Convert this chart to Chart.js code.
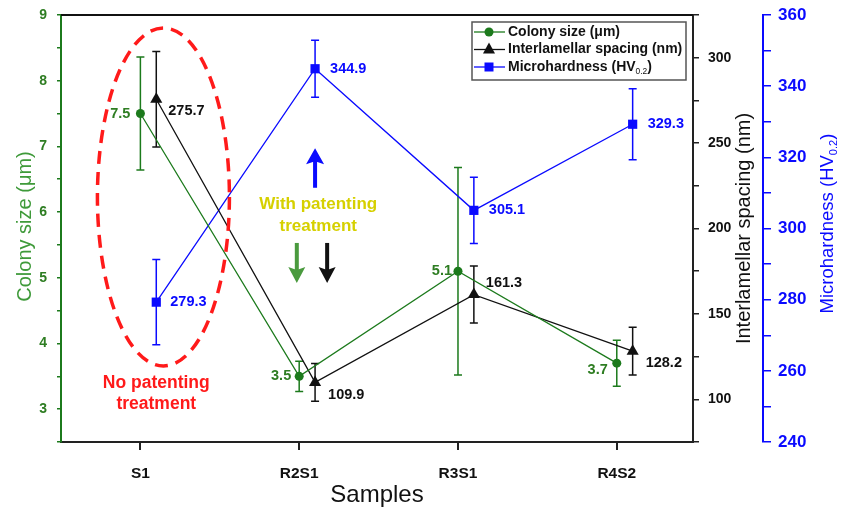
<!DOCTYPE html>
<html>
<head>
<meta charset="utf-8">
<script src="https://cdn.jsdelivr.net/npm/chart.js@4.4.0/dist/chart.umd.min.js"></script>
<style>
  html, body { margin: 0; background: #fff; }
  #wrap { width: 842px; height: 512px; }
</style>
</head>
<body>
<div id="wrap"><canvas id="c"></canvas></div>
<script>
"use strict";

const FONT = "'Liberation Sans', Arial, sans-serif";
const GREEN = "#1c7a1c";
const GREEN_TXT = "#2e7d22";
const GREEN_TITLE = "#3f9a3a";
const BLACK = "#111111";
const BLUE = "#0a0aff";
const RED = "#ff1a1a";
const YELLOW = "#d6d000";

// ---- data ----
const samples = ["S1", "R2S1", "R3S1", "R4S2"];
const colonySize = [7.5, 3.5, 5.1, 3.7];
const colonyErr = [0.86, 0.23, 1.58, 0.35];
const spacing = [275.7, 109.9, 161.3, 128.2];
const spacingErr = [28, 11, 16.7, 14];
const hardness = [279.3, 344.9, 305.1, 329.3];
const hardnessErr = [12, 8, 9.3, 10];

const colonyTickLabels = [3, 4, 5, 6, 7, 8, 9];
const spacingTickLabels = [100, 150, 200, 250, 300];
const hardnessTickLabels = [240, 260, 280, 300, 320, 340, 360];

// value label placement next to each marker: [dx, dy, align]
const colonyLabelPos = [[-10, 0, "right"], [-8, 0, "right"], [-6, 0, "right"], [-9, 7, "right"]];
const spacingLabelPos = [[12, 12, "left"], [13, 13, "left"], [12, -12, "left"], [13, 12, "left"]];
const hardnessLabelPos = [[14, 0, "left"], [15, 0, "left"], [15, 0, "left"], [15, 0, "left"]];

const SHIFT = 0.1; // spacing and hardness markers sit a little right of the category

function pts(vals, shift) {
  return vals.map((v, i) => ({ x: i + shift, y: v }));
}

// fixed axis sizes, no extra room for half-labels at the ends
const fixWidth = (w) => (s) => { s.width = w; s.paddingTop = 0; s.paddingBottom = 0; };

// ---- drawing helpers ----
function arrow(c, x, yTail, yTip, color, shaftW, headW, headH) {
  const dir = yTip > yTail ? 1 : -1;
  const yBase = yTip - dir * headH;
  c.save();
  c.strokeStyle = color; c.fillStyle = color; c.lineWidth = shaftW;
  c.beginPath(); c.moveTo(x, yTail); c.lineTo(x, yBase + dir * 2); c.stroke();
  c.beginPath();
  c.moveTo(x, yTip);
  c.lineTo(x - headW / 2, yBase - dir * 3);
  c.lineTo(x, yBase);
  c.lineTo(x + headW / 2, yBase - dir * 3);
  c.closePath(); c.fill();
  c.restore();
}

// text with a subscript part; returns its width, drawing it only when asked
function subText(c, parts, x, y, size, weight, draw) {
  let w = 0;
  for (const [t, sub] of parts) {
    c.font = `${sub ? "" : weight} ${sub ? size * 0.6 : size}px ${FONT}`;
    if (draw) c.fillText(t, x + w, sub ? y + size * 0.3 : y);
    w += c.measureText(t).width;
  }
  return w;
}

function marker(c, style, x, y, color) {
  c.save();
  c.fillStyle = color;
  c.beginPath();
  if (style === "circle") c.arc(x, y, 4.5, 0, Math.PI * 2);
  else if (style === "rect") c.rect(x - 4.5, y - 4.5, 9, 9);
  else { c.moveTo(x, y - 7); c.lineTo(x + 6, y + 4); c.lineTo(x - 6, y + 4); c.closePath(); }
  c.fill();
  c.restore();
}

const series = [
  { vals: colonySize, err: colonyErr, axis: "y", shift: 0, color: GREEN, txt: GREEN_TXT, pos: colonyLabelPos },
  { vals: spacing, err: spacingErr, axis: "y1", shift: SHIFT, color: BLACK, txt: BLACK, pos: spacingLabelPos },
  { vals: hardness, err: hardnessErr, axis: "y2", shift: SHIFT, color: BLUE, txt: BLUE, pos: hardnessLabelPos },
];

const decor = {
  id: "decor",
  beforeDatasetsDraw(chart) {
    const c = chart.ctx, xs = chart.scales.x;
    c.save();
    c.lineWidth = 1.5;
    for (const s of series) {
      const ys = chart.scales[s.axis];
      c.strokeStyle = s.color;
      s.vals.forEach((v, i) => {
        const x = xs.getPixelForValue(i + s.shift);
        const top = ys.getPixelForValue(v + s.err[i]);
        const bot = ys.getPixelForValue(v - s.err[i]);
        c.beginPath();
        c.moveTo(x, top); c.lineTo(x, bot);
        c.moveTo(x - 4, top); c.lineTo(x + 4, top);
        c.moveTo(x - 4, bot); c.lineTo(x + 4, bot);
        c.stroke();
      });
    }
    c.restore();
  },
  afterDraw(chart) {
    const c = chart.ctx, a = chart.chartArea, xs = chart.scales.x, yl = chart.scales.y;
    c.save();

    // top frame line
    c.strokeStyle = BLACK; c.lineWidth = 2;
    c.beginPath(); c.moveTo(a.left, a.top); c.lineTo(a.right, a.top); c.stroke();

    // value labels
    c.font = `bold 14.5px ${FONT}`;
    c.textBaseline = "middle";
    for (const s of series) {
      const ys = chart.scales[s.axis];
      c.fillStyle = s.txt;
      s.vals.forEach((v, i) => {
        const [dx, dy, al] = s.pos[i];
        c.textAlign = al;
        c.fillText(v.toFixed(1), xs.getPixelForValue(i + s.shift) + dx, ys.getPixelForValue(v) + dy);
      });
    }

    // dashed ellipse around the untreated sample
    const ex = xs.getPixelForValue(0.145), ey = yl.getPixelForValue(6.23);
    c.strokeStyle = RED; c.lineWidth = 3.5; c.setLineDash([13, 8]);
    c.beginPath(); c.ellipse(ex, ey, 66, 169, 0, 0, Math.PI * 2); c.stroke();
    c.setLineDash([]);

    c.textAlign = "center";
    c.font = `bold 17.5px ${FONT}`;
    c.fillStyle = RED;
    const nx = xs.getPixelForValue(0.1), ny = yl.getPixelForValue(3.4);
    c.fillText("No patenting", nx, ny);
    c.fillText("treatment", nx, ny + 21);

    c.fillStyle = YELLOW;
    c.font = `bold 17px ${FONT}`;
    const wx = xs.getPixelForValue(1.12), wy = yl.getPixelForValue(6.12);
    c.fillText("With patenting", wx, wy);
    c.fillText("treatment", wx, wy + 22);

    // trend arrows
    arrow(c, xs.getPixelForValue(1.1), yl.getPixelForValue(6.37), yl.getPixelForValue(6.97), BLUE, 4, 18, 13);
    arrow(c, xs.getPixelForValue(0.985), yl.getPixelForValue(5.53), yl.getPixelForValue(4.92), "#4a9a3e", 4, 17, 13);
    arrow(c, xs.getPixelForValue(1.176), yl.getPixelForValue(5.53), yl.getPixelForValue(4.92), BLACK, 4, 17, 13);

    // legend
    const lx = a.right - 221, ly = a.top + 7, lw = 214, lh = 58;
    c.strokeStyle = "#555"; c.lineWidth = 1.5;
    c.strokeRect(lx, ly, lw, lh);
    const rows = [
      { color: GREEN, style: "circle", parts: [["Colony size (μm)"]] },
      { color: BLACK, style: "triangle", parts: [["Interlamellar spacing (nm)"]] },
      { color: BLUE, style: "rect", parts: [["Microhardness (HV"], ["0.2", true], [")"]] },
    ];
    c.textAlign = "left";
    c.textBaseline = "middle";
    rows.forEach((r, k) => {
      const y = ly + 10 + k * 17.5;
      c.strokeStyle = r.color; c.lineWidth = 1.3;
      c.beginPath(); c.moveTo(lx + 2, y); c.lineTo(lx + 33, y); c.stroke();
      marker(c, r.style, lx + 17, y, r.color);
      c.fillStyle = BLACK;
      subText(c, r.parts, lx + 36, y, 14, "bold", true);
    });

    // axis titles
    c.textAlign = "center";
    c.fillStyle = BLACK;
    c.font = `24px ${FONT}`;
    c.fillText("Samples", (a.left + a.right) / 2, 495);

    const midY = (a.top + a.bottom) / 2;
    const vtitle = (x, y, color, parts, size) => {
      c.save();
      c.translate(x, y);
      c.rotate(-Math.PI / 2);
      c.fillStyle = color;
      c.textAlign = "left";
      const w = subText(c, parts, 0, 0, size, "", false);
      subText(c, parts, -w / 2, 0, size, "", true);
      c.restore();
    };
    vtitle(25, midY - 2, GREEN_TITLE, [["Colony size (μm)"]], 20);
    vtitle(744, midY, BLACK, [["Interlamellar spacing (nm)"]], 20);
    vtitle(828, midY - 5, BLUE, [["Microhardness (HV"], ["0.2", true], [")"]], 18.5);

    c.restore();
  },
};

// ---- chart ----
new Chart(document.getElementById("c"), {
  type: "line",
  data: {
    datasets: [
      {
        label: "Colony size (μm)", yAxisID: "y", data: pts(colonySize, 0),
        borderColor: GREEN, backgroundColor: GREEN, borderWidth: 1.3,
        pointStyle: "circle", pointRadius: 4.5, pointBorderWidth: 0,
      },
      {
        label: "Interlamellar spacing (nm)", yAxisID: "y1", data: pts(spacing, SHIFT),
        borderColor: BLACK, backgroundColor: BLACK, borderWidth: 1.3,
        pointStyle: "triangle", pointRadius: 7, pointBorderWidth: 0,
      },
      {
        label: "Microhardness (HV0.2)", yAxisID: "y2", data: pts(hardness, SHIFT),
        borderColor: BLUE, backgroundColor: BLUE, borderWidth: 1.3,
        pointStyle: "rect", pointRadius: 6.5, pointBorderWidth: 0,
      },
    ],
  },
  options: {
    animation: false, responsive: true, maintainAspectRatio: false,
    layout: { padding: { top: 15 } },
    plugins: { legend: { display: false }, tooltip: { enabled: false } },
    scales: {
      x: {
        type: "linear", min: -0.5, max: 3.48,
        afterBuildTicks: (s) => { s.ticks = samples.map((_, i) => ({ value: i })); },
        afterFit: (s) => { s.height = 70; s.paddingLeft = 0; s.paddingRight = 0; },
        ticks: {
          autoSkip: false, maxRotation: 0, padding: 14, color: BLACK,
          font: { family: FONT, size: 15.5, weight: "bold" },
          callback: (v) => samples[v] ?? "",
        },
        grid: { drawOnChartArea: false, tickLength: 8, tickColor: "#222", lineWidth: 2 },
        border: { color: "#222", width: 2 },
      },
      y: {
        position: "left", min: 2.5, max: 9,
        afterFit: fixWidth(61),
        ticks: {
          stepSize: 0.5, autoSkip: false, padding: 10, color: GREEN_TXT,
          font: { family: FONT, size: 14, weight: "bold" },
          callback: (v) => (colonyTickLabels.includes(v) ? v : ""),
        },
        grid: { drawOnChartArea: false, tickLength: 4, tickColor: GREEN, lineWidth: 1.5 },
        border: { color: GREEN, width: 2 },
      },
      y1: {
        position: "right", weight: 1, min: 75, max: 325,
        afterFit: fixWidth(70),
        ticks: {
          stepSize: 25, autoSkip: false, padding: 9, color: BLACK,
          font: { family: FONT, size: 14, weight: "bold" },
          callback: (v) => (spacingTickLabels.includes(v) ? v : ""),
        },
        grid: { drawOnChartArea: false, tickLength: 6, tickColor: "#222", lineWidth: 1.5 },
        border: { color: "#222", width: 2 },
      },
      y2: {
        position: "right", weight: 2, min: 240, max: 360,
        afterFit: fixWidth(79),
        ticks: {
          stepSize: 10, autoSkip: false, padding: 7, color: BLUE,
          font: { family: FONT, size: 17, weight: "bold" },
          callback: (v) => (hardnessTickLabels.includes(v) ? v : ""),
        },
        grid: { drawOnChartArea: false, tickLength: 8, tickColor: BLUE, lineWidth: 1.5 },
        border: { color: BLUE, width: 2 },
      },
    },
  },
  plugins: [decor],
});
</script>
</body>
</html>
